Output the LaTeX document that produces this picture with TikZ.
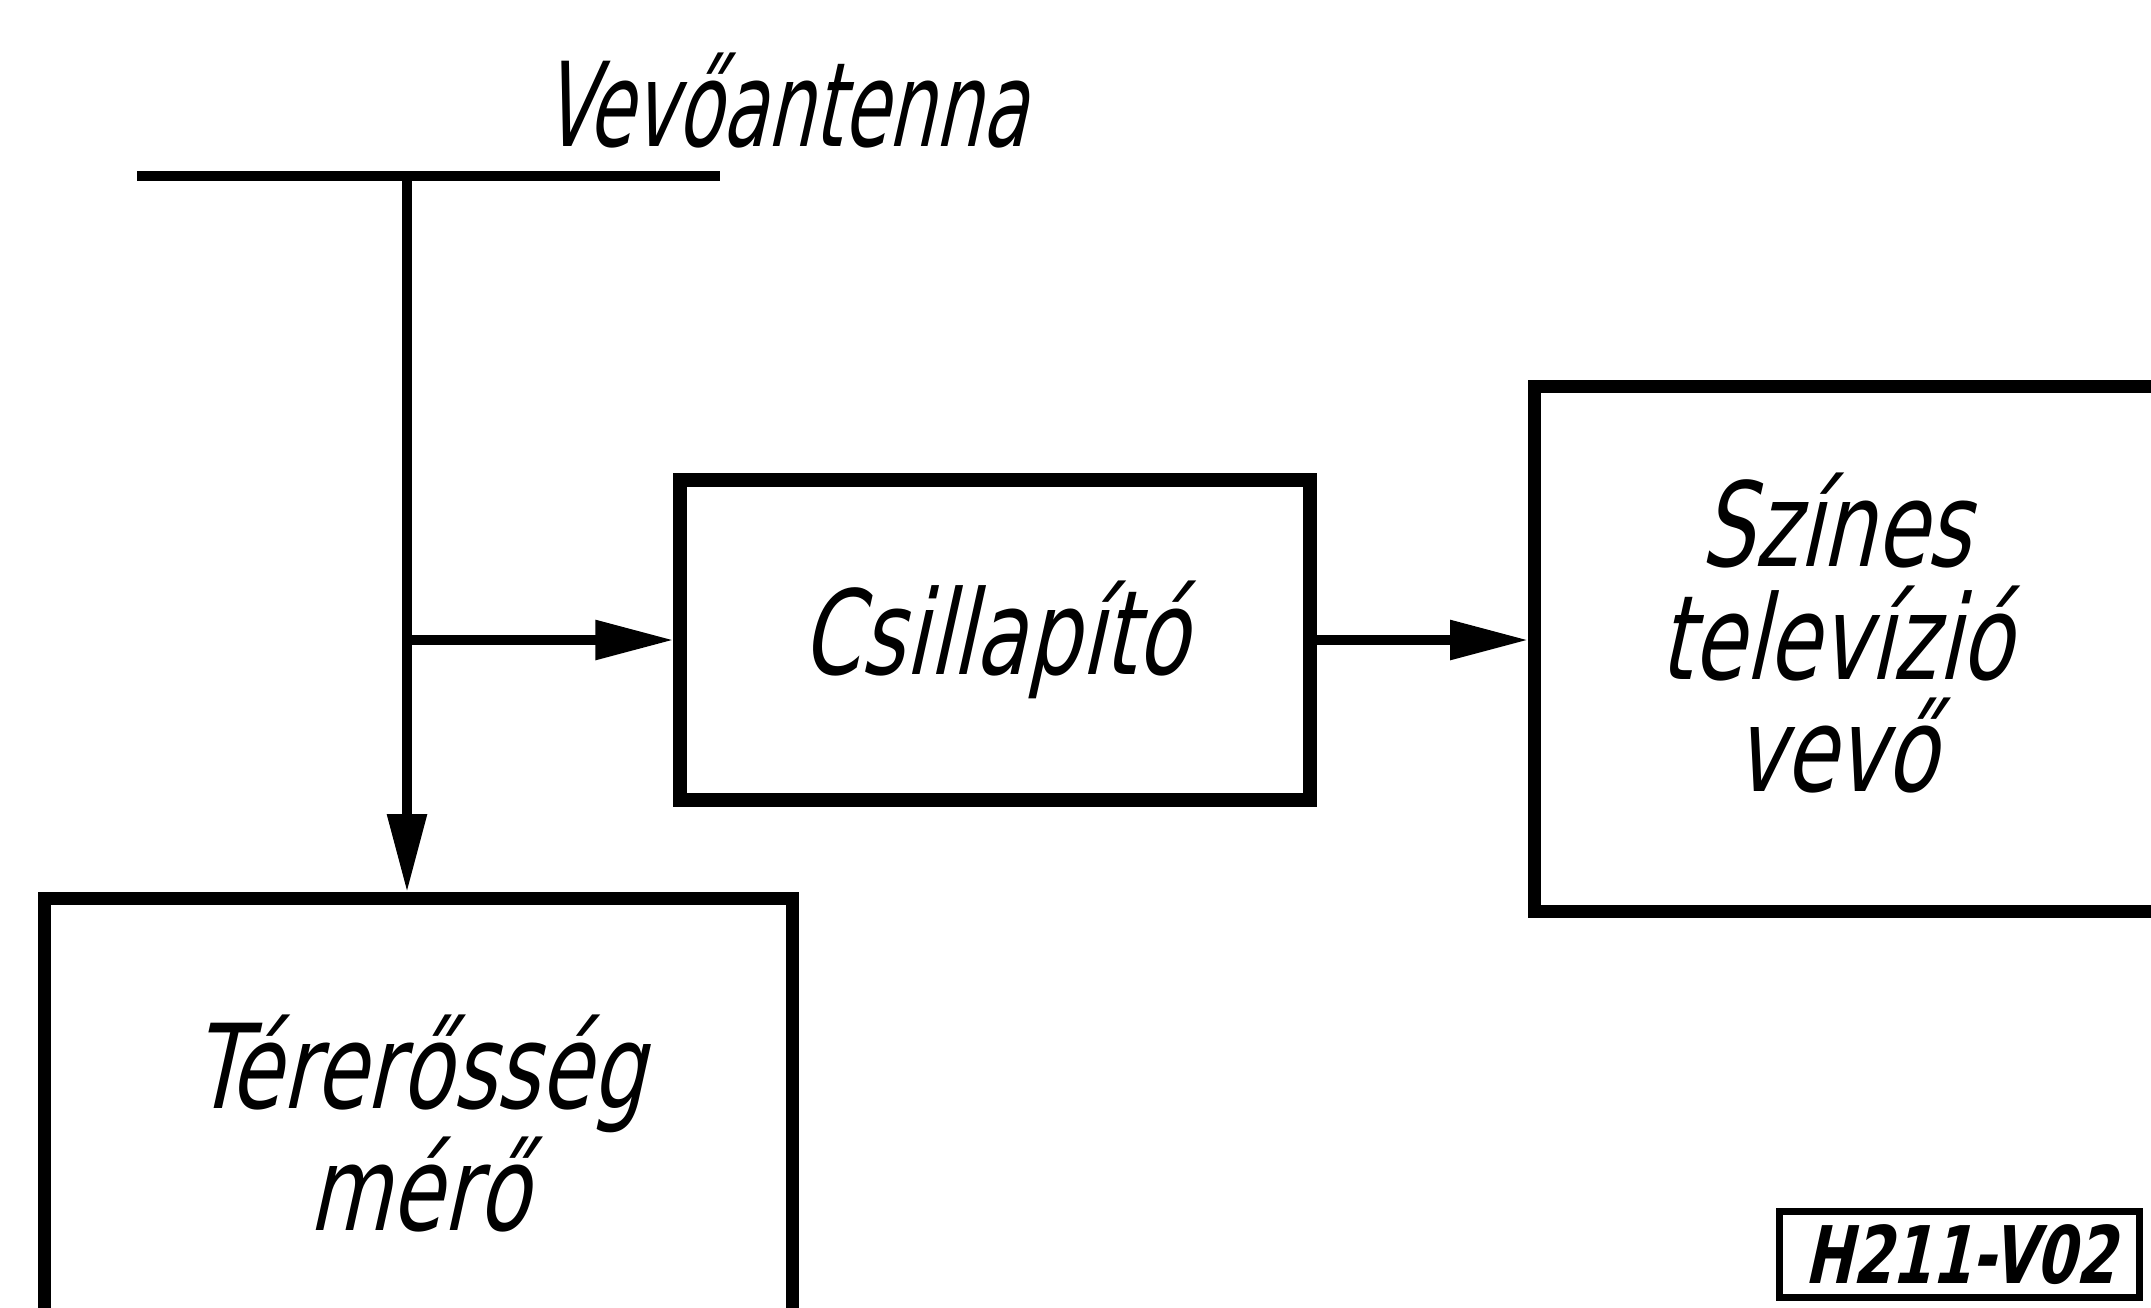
\documentclass[tikz,border=0pt]{standalone}
\usepackage{fontspec}
\newfontfamily\rajzfont[FakeSlant=0.22,FakeStretch=0.72]{DejaVu Sans}
\newfontfamily\keskenyfont[FakeSlant=0.22,FakeStretch=0.63]{DejaVu Sans}
\usetikzlibrary{arrows.meta,positioning}
\newcommand{\nagybetu}{\rajzfont\fontsize{33.3pt}{32pt}\selectfont}
\newcommand{\kisbetu}{\rajzfont\bfseries\fontsize{22.6pt}{24pt}\selectfont}

\begin{document}
\begin{tikzpicture}[
	blokk/.style={draw, line width=3.8pt, inner sep=0pt, font=\nagybetu, align=center},
	vezetek/.style={line width=2.6pt},
	nyil/.style={vezetek, -{Triangle[length=0.78cm, width=0.38cm]}},
	]
	\useasboundingbox (0,0) rectangle (21.51,-13.07);
	\clip (0,0) rectangle (21.51,-13.07);

	\coordinate (antbal) at (1.37,-1.76);
	\coordinate (antjobb) at (7.20,-1.76);
	\coordinate (ant) at (4.07,-1.76);
	\draw[line width=2.6pt] (antbal) -- (antjobb);
	\node[font=\keskenyfont\fontsize{33.3pt}{34pt}\selectfont, anchor=base west, inner sep=0pt] (antnev) at (5.42,-1.46) {Vevőantenna};

	\node[blokk, minimum width=6.3cm, minimum height=3.2cm] (csill) at (9.95,-6.40) {Csillapító};
	\node[blokk, anchor=north west, minimum width=7.3cm, minimum height=5.25cm] (tv) at (15.28,-3.80) {};
	\node[font=\nagybetu, align=center] (tvnev) at ([xshift=-0.64cm, yshift=0.16cm]tv.center) {Színes\\televízió\\vevő};
	\node[blokk, anchor=north west, minimum width=7.48cm, minimum height=4.5cm] (mero) at (0.38,-8.92) {Térerősség\\mérő};
	\node[draw, line width=2pt, font=\kisbetu, anchor=north west, minimum width=3.6cm, minimum height=0.86cm] (jel) at (17.76,-12.08) {H211-V02};

	\draw[nyil] (ant) -- (ant |- mero.north);
	\draw[nyil] (ant |- csill.west) -- (csill.west);
	\draw[nyil] (csill.east) -- (csill.east -| tv.west);
\end{tikzpicture}
\end{document}
